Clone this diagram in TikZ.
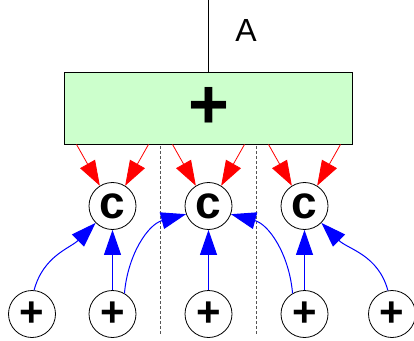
\documentclass[tikz,border=0pt]{standalone}
\usepackage{fontspec}
\setmainfont{Liberation Sans}
\usetikzlibrary{arrows.meta,positioning,calc}
\definecolor{sumgreen}{HTML}{CCFFCC}
\definecolor{divgray}{HTML}{555555}

\begin{document}
\begin{tikzpicture}[
  x=1pt, y=1pt,
  sumbox/.style={rectangle, draw=black, fill=sumgreen, line width=0.9pt,
               minimum width=288pt, minimum height=72pt, inner sep=0pt,
               font=\fontsize{70}{70}\selectfont\bfseries},
  opnode/.style={circle, draw=black, fill=white, line width=0.8pt,
               minimum size=47pt, inner sep=0pt},
  cnode/.style={opnode, font=\fontsize{46}{46}\selectfont\bfseries},
  pnode/.style={opnode, font=\fontsize{42}{42}\selectfont\bfseries},
  redarrow/.style={-{Triangle[length=25pt,width=17pt]}, red, line width=0.8pt},
  bluearrow/.style={-{Triangle[length=25pt,width=17pt]}, blue, line width=1pt},
  divider/.style={divgray, dash pattern=on 3pt off 2pt, line width=0.8pt},
]
\useasboundingbox (0,0) rectangle (414,340);

\node[sumbox] (sum) at (208.5,232) {+};
\coordinate (in) at (208.5,340);
\draw[line width=0.8pt] (in) -- (sum.north);
\node[font=\fontsize{32}{32}\selectfont] (lblA) at (246,310) {A};

% dashed dividers between the lanes
\coordinate (d1top) at (160.5,194);
\coordinate (d1bot) at (160.5,5);
\coordinate (d2top) at (256.5,194);
\coordinate (d2bot) at (256.5,5);
\draw[divider] (d1top) -- (d1bot);
\draw[divider] (d2top) -- (d2bot);

\foreach \n/\x in {1/112.5, 2/208.5, 3/304.5} {
  \node[cnode] (c\n) at (\x,134) {c};
  \draw[redarrow] ([xshift=-36pt]c\n.center |- sum.south) -- (c\n.122);
  \draw[redarrow] ([xshift=36pt]c\n.center |- sum.south) -- (c\n.58);
}

\foreach \n/\x in {1/32, 2/112.5, 3/208.5, 4/304.5, 5/392} {
  \node[pnode] (p\n) at (\x,26) {+};
}

% carries into the neighbouring lanes
\draw[bluearrow] (p1.85) to[out=75,in=225] (c1.225);
\draw[bluearrow] (p2.north) -- (c1.south);
\draw[bluearrow] (p2.60) to[out=85,in=195] (c2.200);
\draw[bluearrow] (p3.north) -- (c2.south);
\draw[bluearrow] (p4.120) to[out=95,in=-15] (c2.-20);
\draw[bluearrow] (p4.north) -- (c3.south);
\draw[bluearrow] (p5.100) to[out=105,in=-45] (c3.-45);

\end{tikzpicture}
\end{document}
